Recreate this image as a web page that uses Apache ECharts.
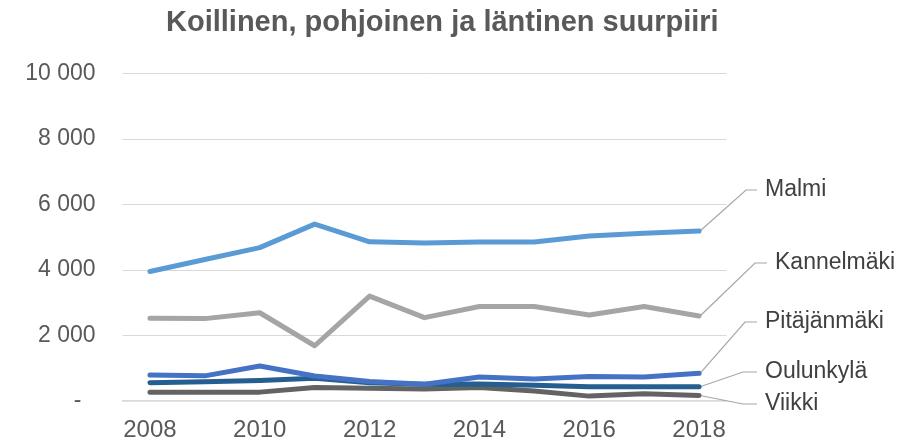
<!DOCTYPE html>
<html>
<head>
<meta charset="utf-8">
<script src="https://cdn.jsdelivr.net/npm/echarts@6/dist/echarts.min.js"></script>
<style>
  html, body { margin: 0; padding: 0; background: #ffffff; }
  #chart { width: 912px; height: 443px; }
</style>
</head>
<body>
<div id="chart"></div>
<script>
// Years on the category axis
const years = ['2008', '2009', '2010', '2011', '2012', '2013', '2014', '2015', '2016', '2017', '2018'];

// Values per district
const malmi       = [3950, 4320, 4680, 5400, 4860, 4820, 4850, 4850, 5040, 5120, 5190];
const kannelmaki  = [2520, 2510, 2690, 1680, 3200, 2540, 2880, 2880, 2620, 2880, 2590];
const pitajanmaki = [785, 760, 1060, 755, 590, 505, 725, 664, 740, 725, 838];
const oulunkyla   = [550, 580, 620, 685, 550, 505, 510, 470, 430, 428, 428];
const viikki      = [262, 262, 262, 405, 380, 358, 400, 300, 140, 215, 160];

const seriesNames = ['Malmi', 'Kannelmäki', 'Pitäjänmäki', 'Oulunkylä', 'Viikki'];
const seriesData  = [malmi, kannelmaki, pitajanmaki, oulunkyla, viikki];
const colors      = ['#5B9BD5', '#A5A5A5', '#4472C4', '#255E91', '#636363'];

// Where each end label sits and where its leader line bends
const labelSpots = [
  { textX: 765, textY: 190, elbowX: 746, endX: 757 },
  { textX: 775, textY: 263, elbowX: 755, endX: 767 },
  { textX: 765, textY: 322, elbowX: 745, endX: 757 },
  { textX: 765, textY: 372, elbowX: 743, endX: 757 },
  { textX: 765, textY: 404, elbowX: 743, endX: 757 }
];

const FONT = "'Liberation Sans', Arial, sans-serif";

function fmtThousands(v) {
  return String(v).replace(/\B(?=(\d{3})+(?!\d))/g, ' ');
}

const chart = echarts.init(document.getElementById('chart'), null, { renderer: 'canvas' });

chart.setOption({
  animation: false,
  backgroundColor: '#ffffff',
  title: {
    text: 'Koillinen, pohjoinen ja läntinen suurpiiri',
    left: 161,
    top: 3,
    textStyle: { fontFamily: FONT, fontSize: 29, fontWeight: 'bold', color: '#595959' }
  },
  grid: { left: 122.5, right: 185.5, top: 73.7, bottom: 42.3, containLabel: false },
  xAxis: {
    type: 'category',
    data: years,
    boundaryGap: true,
    axisLine: { lineStyle: { color: '#d9d9d9', width: 1.5 } },
    axisTick: { show: false },
    axisLabel: { interval: 1, color: '#595959', fontFamily: FONT, fontSize: 24, margin: 18 },
    splitLine: { show: false }
  },
  yAxis: {
    type: 'value',
    min: 0,
    max: 10000,
    interval: 2000,
    axisLine: { show: false },
    axisTick: { show: false },
    splitLine: { lineStyle: { color: '#d9d9d9', width: 1 } },
    axisLabel: {
      color: '#595959',
      fontFamily: FONT,
      fontSize: 23,
      margin: 27,
      formatter: function (v) { return v === 0 ? '{z|-}' : fmtThousands(v); },
      rich: { z: { color: '#595959', fontFamily: FONT, fontSize: 23, padding: [0, 14, 0, 0] } }
    }
  },
  series: seriesNames.map(function (name, i) {
    return {
      name: name,
      type: 'line',
      data: seriesData[i],
      symbol: 'none',
      smooth: false,
      z: 10 - i,
      lineStyle: { color: colors[i], width: 5, cap: 'round', join: 'round' },
      itemStyle: { color: colors[i] }
    };
  })
});

// End labels with leader lines, anchored to each series' last point
const graphics = [];
seriesData.forEach(function (arr, i) {
  const last = arr.length - 1;
  const p = chart.convertToPixel({ seriesIndex: i }, [last, arr[last]]);
  const s = labelSpots[i];
  graphics.push({
    type: 'polyline',
    silent: true,
    z: 5,
    shape: { points: [[p[0] + 1, p[1]], [s.elbowX, s.textY], [s.endX, s.textY]] },
    style: { stroke: '#a6a6a6', lineWidth: 1.2, fill: null }
  });
  graphics.push({
    type: 'text',
    silent: true,
    z: 20,
    x: s.textX,
    y: s.textY,
    style: {
      text: seriesNames[i],
      font: '23px ' + FONT,
      fill: '#404040',
      textAlign: 'left',
      textVerticalAlign: 'middle'
    }
  });
});
chart.setOption({ graphic: graphics });
</script>
</body>
</html>
